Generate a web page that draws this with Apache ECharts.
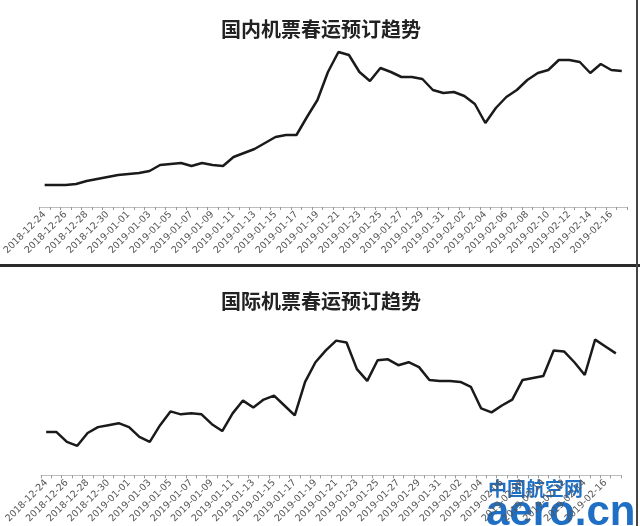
<!DOCTYPE html>
<html>
<head>
<meta charset="utf-8">
<script src="https://cdn.jsdelivr.net/npm/echarts@6/dist/echarts.min.js"></script>
<style>html,body{margin:0;padding:0;background:#fff;}#c{width:640px;height:526px;}</style>
</head>
<body>
<div id="c"></div>
<script>
const dates = [
 '2018-12-24','2018-12-25','2018-12-26','2018-12-27','2018-12-28','2018-12-29','2018-12-30','2018-12-31',
 '2019-01-01','2019-01-02','2019-01-03','2019-01-04','2019-01-05','2019-01-06','2019-01-07','2019-01-08',
 '2019-01-09','2019-01-10','2019-01-11','2019-01-12','2019-01-13','2019-01-14','2019-01-15','2019-01-16',
 '2019-01-17','2019-01-18','2019-01-19','2019-01-20','2019-01-21','2019-01-22','2019-01-23','2019-01-24',
 '2019-01-25','2019-01-26','2019-01-27','2019-01-28','2019-01-29','2019-01-30','2019-01-31','2019-02-01',
 '2019-02-02','2019-02-03','2019-02-04','2019-02-05','2019-02-06','2019-02-07','2019-02-08','2019-02-09',
 '2019-02-10','2019-02-11','2019-02-12','2019-02-13','2019-02-14','2019-02-15','2019-02-16','2019-02-17'
];
const domestic = [22,22,22,23,26,28,30,32,33,34,36,42,43,44,41,44,42,41,50,54,58,64,70,72,72,90,107,135,
 155,152,135,126,139,135,130,130,128,117,114,115,111,103,84,99,110,117,127,134,137,147,147,145,134,143,137,136];
const international = [44,44,34,30,43,49,51,53,49,39,34,51,65,62,63,62,52,45,63,76,69,77,81,71,61,95,115,127,
 137,135,108,96,117,118,112,115,110,97,96,96,95,90,68,64,71,77,97,99,101,127,126,115,102,138,131,124];
const titles = ['国内机票春运预订趋势','国际机票春运预订趋势'];

const chart = echarts.init(document.getElementById('c'));
const labelFont = {color:'#555', fontSize:9.5, fontFamily:'DejaVu Sans', rotate:45, interval:1, margin:6};
function xAxis(gi){
  return {type:'category', gridIndex:gi, data:dates, boundaryGap:true,
    axisLine:{lineStyle:{color:'#bdbdbd', width:1}},
    axisTick:{show:true, interval:0, length:3, lineStyle:{color:'#999'}},
    axisLabel:labelFont};
}
function yAxis(gi){
  return {type:'value', gridIndex:gi, min:0, max:160, show:false, splitLine:{show:false}};
}
chart.setOption({
  animation:false,
  title:[
    {text:titles[0], left:316, top:14, textAlign:'center',
     textStyle:{fontSize:20, fontWeight:'bold', color:'#222', fontFamily:'Noto Sans CJK SC'}},
    {text:titles[1], left:316, top:286, textAlign:'center',
     textStyle:{fontSize:20, fontWeight:'bold', color:'#222', fontFamily:'Noto Sans CJK SC'}}
  ],
  grid:[
    {left:34, right:13, top:47, bottom:319},
    {left:41, right:19, top:318, bottom:48}
  ],
  xAxis:[xAxis(0), xAxis(1)],
  yAxis:[yAxis(0), yAxis(1)],
  series:[
    {type:'line', xAxisIndex:0, yAxisIndex:0, data:domestic, showSymbol:false,
     lineStyle:{color:'#1a1a1a', width:2.5}},
    {type:'line', xAxisIndex:1, yAxisIndex:1, data:international, showSymbol:false,
     lineStyle:{color:'#1a1a1a', width:2.5}}
  ],
  graphic:[
    {type:'rect', shape:{x:0, y:264, width:640, height:3}, style:{fill:'#2a2a2a'}},
    {type:'rect', shape:{x:636, y:0, width:2, height:526}, style:{fill:'#444'}},
    {type:'text', left:487, top:478, style:{text:'中国航空网', fill:'#1f6fc4', fontSize:19, fontWeight:'bold',
      fontFamily:'Noto Sans CJK SC', stroke:'#fff', lineWidth:2}},
    {type:'text', left:485, top:491, style:{text:'aero.cn', fill:'#1f6fc4', fontSize:42, fontWeight:'bold',
      fontFamily:'Liberation Sans', stroke:'#fff', lineWidth:2}}
  ]
});
</script>
</body>
</html>
